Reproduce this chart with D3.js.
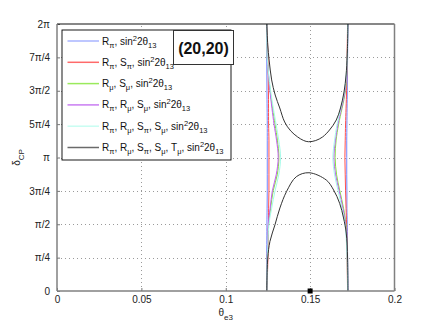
<!DOCTYPE html>
<html>
<head>
<meta charset="utf-8">
<style>
body { margin: 0; background: #fff; }
svg { font-family: "Liberation Sans", Arial, sans-serif; font-size: 10px; }
.grid line { stroke: #9a9a9a; stroke-dasharray: 1,3; shape-rendering: crispEdges; }
.axis path { display: none; }
.axis line { stroke: #777; }
.axis text { fill: #222; font-size: 10px; }
.curve { fill: none; stroke-width: 1; }
</style>
</head>
<body>
<svg width="436" height="327"></svg>
<script src="https://d3js.org/d3.v7.min.js"></script>
<script>

// delta_CP in units of pi, shared by the coloured contours
var deltaGrid = [0, 0.25, 0.5, 0.62, 0.75, 0.87, 1.0, 1.13, 1.25, 1.5, 1.75, 2];

// theta_e3 of the left and right branch for each coloured contour
var blueLeft     = [0.1243, 0.1243, 0.1244, 0.1245, 0.1246, 0.1246, 0.1246, 0.1246, 0.1246, 0.1244, 0.1243, 0.1243];
var blueRight    = [0.1724, 0.1722, 0.1720, 0.1718, 0.1718, 0.1717, 0.1717, 0.1717, 0.1718, 0.1720, 0.1722, 0.1724];
var redLeft      = [0.1244, 0.1250, 0.1253, 0.1254, 0.1256, 0.1256, 0.1256, 0.1256, 0.1254, 0.1253, 0.1250, 0.1244];
var redRight     = [0.1722, 0.1719, 0.1716, 0.1713, 0.1710, 0.1708, 0.1706, 0.1708, 0.1710, 0.1716, 0.1719, 0.1722];
var greenLeft    = [0.1244, 0.1246, 0.1254, 0.1266, 0.1281, 0.1305, 0.1315, 0.1306, 0.1292, 0.1263, 0.1246, 0.1244];
var greenRight   = [0.1722, 0.1720, 0.1712, 0.1698, 0.1676, 0.1657, 0.1648, 0.1654, 0.1669, 0.1709, 0.1720, 0.1722];
var magentaLeft  = [0.1244, 0.1246, 0.1252, 0.1263, 0.1276, 0.1299, 0.1311, 0.1301, 0.1286, 0.1262, 0.1246, 0.1244];
var magentaRight = [0.1722, 0.1720, 0.1710, 0.1694, 0.1672, 0.1651, 0.1641, 0.1650, 0.1665, 0.1707, 0.1720, 0.1722];
var cyanLeft     = [0.1244, 0.1247, 0.1256, 0.1272, 0.1292, 0.1314, 0.1325, 0.1314, 0.1298, 0.1266, 0.1246, 0.1244];
var cyanRight    = [0.1722, 0.1719, 0.1707, 0.1689, 0.1666, 0.1645, 0.1635, 0.1645, 0.1660, 0.1704, 0.1720, 0.1722];

// black contour (all observables): [theta_e3, delta/pi]
var blackUpper = [[0.1243, 2.0], [0.1249, 1.843], [0.1257, 1.730], [0.1272, 1.581], [0.1293, 1.468],
  [0.1320, 1.371], [0.1349, 1.266], [0.1385, 1.199], [0.1426, 1.154], [0.1462, 1.127], [0.1491, 1.118],
  [0.1533, 1.127], [0.1574, 1.154], [0.1615, 1.206], [0.1655, 1.281], [0.1680, 1.371], [0.1701, 1.491],
  [0.1713, 1.618], [0.1720, 1.768], [0.1724, 2.0]];
var blackLower = [[0.1243, 0], [0.1249, 0.247], [0.1262, 0.372], [0.1292, 0.497], [0.1321, 0.622],
  [0.1361, 0.747], [0.1418, 0.856], [0.1493, 0.886], [0.1596, 0.831], [0.1639, 0.757], [0.1675, 0.657],
  [0.1698, 0.547], [0.1714, 0.434], [0.1722, 0.247], [0.1724, 0]];

// best fit point
var truePoint = [0.15, 0];

var xTicks = [0, 0.05, 0.1, 0.15, 0.2];
var xTickLabels = ["0", "0.05", "0.1", "0.15", "0.2"];
var yTicks = [0, 0.25, 0.5, 0.75, 1, 1.25, 1.5, 1.75, 2];
var yTickLabels = ["0", "\u03c0/4", "\u03c0/2", "3\u03c0/4", "\u03c0", "5\u03c0/4", "3\u03c0/2", "7\u03c0/4", "2\u03c0"];

// legend entries: list of [letter, subscript] observables
var legendLabels = [
  [["R", "\u03c0"]],
  [["R", "\u03c0"], ["S", "\u03c0"]],
  [["R", "\u03bc"], ["S", "\u03bc"]],
  [["R", "\u03c0"], ["R", "\u03bc"], ["S", "\u03bc"]],
  [["R", "\u03c0"], ["R", "\u03bc"], ["S", "\u03c0"], ["S", "\u03bc"]],
  [["R", "\u03c0"], ["R", "\u03bc"], ["S", "\u03c0"], ["S", "\u03bc"], ["T", "\u03bc"]]
];
var seriesColors = ["#7384ff", "#ff4f4f", "#86e33f", "#c25ef0", "#a6fbea", "#333333"];
var legendColors = ["#a9b5ff", "#ff6a6a", "#9aea5c", "#c97cf2", "#c8fdf2", "#6a6a6a"];

var width = 436, height = 327;
var margin = {top: 24, right: 41.5, bottom: 36, left: 57};

var svg = d3.select("svg");

var x = d3.scaleLinear().domain([0, 0.2]).range([margin.left, width - margin.right]);
var y = d3.scaleLinear().domain([0, 2]).range([height - margin.bottom, margin.top]);

// dotted grid
var grid = svg.append("g").attr("class", "grid");
grid.selectAll(".gx").data(xTicks.slice(1, -1)).enter().append("line")
  .attr("x1", function(d) { return Math.round(x(d)) + 0.5; })
  .attr("x2", function(d) { return Math.round(x(d)) + 0.5; })
  .attr("y1", y(0)).attr("y2", y(2));
grid.selectAll(".gy").data(yTicks.slice(1, -1)).enter().append("line")
  .attr("y1", function(d) { return Math.round(y(d)) + 0.5; })
  .attr("y2", function(d) { return Math.round(y(d)) + 0.5; })
  .attr("x1", x(0)).attr("x2", x(0.2));

// axes
svg.append("g").attr("class", "axis")
  .attr("transform", "translate(0," + y(0) + ")")
  .call(d3.axisBottom(x).tickValues(xTicks).tickSize(-3).tickPadding(5)
    .tickFormat(function(d, i) { return xTickLabels[i]; }));

svg.append("g").attr("class", "axis")
  .attr("transform", "translate(" + x(0) + ",0)")
  .call(d3.axisLeft(y).tickValues(yTicks).tickSize(-3).tickPadding(7)
    .tickFormat(function(d, i) { return yTickLabels[i]; }));

// contours
var line = d3.line()
  .x(function(d) { return x(d[0]); })
  .y(function(d) { return y(d[1]); })
  .curve(d3.curveCatmullRom.alpha(0.5));

var branches = [
  [blueLeft, blueRight], [redLeft, redRight], [greenLeft, greenRight],
  [magentaLeft, magentaRight], [cyanLeft, cyanRight]
];

var plot = svg.append("g");
branches.forEach(function(pair, i) {
  pair.forEach(function(thetas) {
    plot.append("path")
      .datum(thetas.map(function(t, k) { return [t, deltaGrid[k]]; }))
      .attr("class", "curve")
      .attr("stroke", seriesColors[i])
      .attr("d", line);
  });
});

[blackUpper, blackLower].forEach(function(arc) {
  plot.append("path")
    .datum(arc)
    .attr("class", "curve")
    .attr("stroke", seriesColors[5])
    .attr("d", line);
});

// frame
svg.append("line").attr("x1", x(0)).attr("x2", x(0.2)).attr("y1", y(2)).attr("y2", y(2))
  .attr("stroke", "#111").attr("stroke-width", 1.2);
svg.append("line").attr("x1", x(0)).attr("x2", x(0)).attr("y1", y(0)).attr("y2", y(2))
  .attr("stroke", "#808080").attr("stroke-width", 1.5);
svg.append("line").attr("x1", x(0.2)).attr("x2", x(0.2)).attr("y1", y(0)).attr("y2", y(2))
  .attr("stroke", "#808080").attr("stroke-width", 1.5);
svg.append("line").attr("x1", x(0)).attr("x2", x(0.2)).attr("y1", y(0)).attr("y2", y(0))
  .attr("stroke", "#808080").attr("stroke-width", 1.5);

// marker
svg.append("rect")
  .attr("x", x(truePoint[0]) - 2.5).attr("y", y(truePoint[1]) - 2.5)
  .attr("width", 5).attr("height", 5).attr("fill", "#000");

// axis titles
var xt = svg.append("text").attr("x", x(0.1)).attr("y", 316)
  .attr("text-anchor", "middle").attr("font-size", 10).attr("fill", "#222");
xt.append("tspan").text("\u03b8");
xt.append("tspan").attr("font-size", 8).attr("dy", 4).text("e3");

var yt = svg.append("text").attr("transform", "translate(20," + y(1) + ") rotate(-90)")
  .attr("text-anchor", "middle").attr("font-size", 10).attr("fill", "#222");
yt.append("tspan").text("\u03b4");
yt.append("tspan").attr("font-size", 8).attr("dy", 4).text("CP");

// legend
var legend = svg.append("g");
legend.append("rect")
  .attr("x", 62).attr("y", 30).attr("width", 169).attr("height", 130)
  .attr("fill", "#fff").attr("stroke", "#000").attr("stroke-width", 0.9);

legendLabels.forEach(function(terms, i) {
  var ly = 41 + i * 21.3;
  legend.append("line").attr("x1", 67.5).attr("x2", 99).attr("y1", ly).attr("y2", ly)
    .attr("stroke", legendColors[i]).attr("stroke-width", 1.5);
  var t = legend.append("text").attr("x", 102).attr("y", ly + 3.5).attr("fill", "#111");
  terms.forEach(function(term) {
    t.append("tspan").attr("dy", 0).text(term[0]);
    t.append("tspan").attr("font-size", 7.5).attr("dy", 3).text(term[1]);
    t.append("tspan").attr("dy", -3).text(", ");
  });
  t.append("tspan").text("sin");
  t.append("tspan").attr("font-size", 7.5).attr("dy", -4).text("2");
  t.append("tspan").attr("dy", 4).text("2\u03b8");
  t.append("tspan").attr("font-size", 7.5).attr("dy", 3).text("13");
});

// configuration label
svg.append("rect").attr("x", 173.5).attr("y", 30.5).attr("width", 60).attr("height", 34)
  .attr("fill", "#fff").attr("stroke", "#333").attr("stroke-width", 1);
svg.append("text").attr("x", 203.5).attr("y", 53.5).attr("text-anchor", "middle")
  .attr("font-size", 16).attr("font-weight", "bold").attr("fill", "#111").text("(20,20)");

</script>
</body>
</html>
